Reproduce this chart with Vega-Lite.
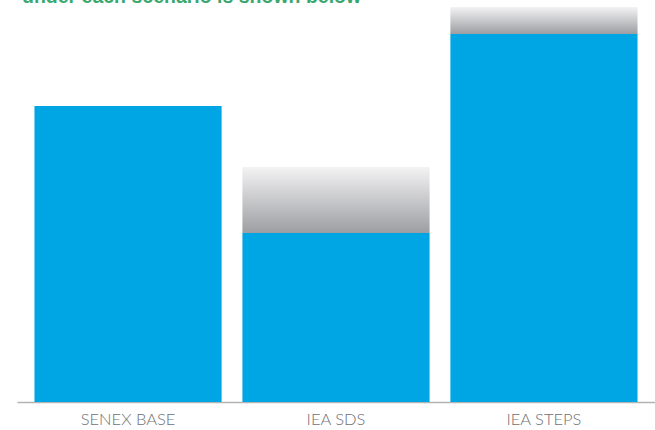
{
  "$schema": "https://vega.github.io/schema/vega-lite/v6.json",
  "width": 638,
  "height": 400,
  "autosize": {"type": "none"},
  "padding": {"left": 17, "top": 2, "right": 0, "bottom": 28},
  "background": "white",
  "title": {
    "text": "under each scenario is shown below",
    "anchor": "start",
    "font": "Arial",
    "fontSize": 19.5,
    "fontWeight": "bold",
    "color": "#3aa86e",
    "baseline": "alphabetic",
    "offset": 0,
    "dx": 5,
    "dy": 20
  },
  "data": {
    "values": [
      {"scenario": "SENEX BASE", "base": 296, "top": 296},
      {"scenario": "IEA SDS", "base": 169, "top": 235},
      {"scenario": "IEA STEPS", "base": 368, "top": 395}
    ]
  },
  "encoding": {
    "x": {
      "field": "scenario",
      "type": "nominal",
      "sort": null,
      "scale": {"paddingInner": 0.1, "paddingOuter": 0.084},
      "axis": {
        "title": null,
        "labelAngle": 0,
        "ticks": false,
        "labelFont": "Lato",
        "labelFontSize": 16.5,
        "labelFontWeight": 300,
        "labelColor": "#707174",
        "labelPadding": 9,
        "domainColor": "#b3b3b3",
        "domainWidth": 1.5
      }
    }
  },
  "layer": [
    {
      "mark": {
        "type": "bar",
        "color": {
          "gradient": "linear",
          "x1": 0, "y1": 0, "x2": 0, "y2": 1,
          "stops": [
            {"offset": 0, "color": "#f3f3f4"},
            {"offset": 1, "color": "#9d9ea2"}
          ]
        }
      },
      "encoding": {
        "y": {"field": "top", "type": "quantitative", "scale": {"domain": [0, 400]}, "axis": null},
        "y2": {"field": "base"}
      }
    },
    {
      "mark": {"type": "bar", "color": "#00a6e3"},
      "encoding": {
        "y": {"field": "base", "type": "quantitative", "scale": {"domain": [0, 400]}, "axis": null}
      }
    }
  ],
  "config": {"view": {"stroke": null}}
}
